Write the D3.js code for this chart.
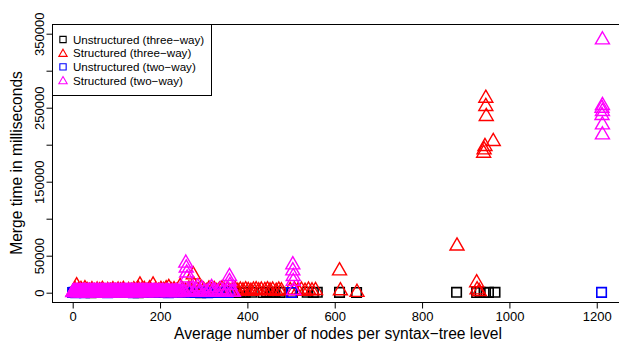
<!DOCTYPE html>
<html>
<head>
<meta charset="utf-8">
<script src="https://cdn.jsdelivr.net/npm/d3@7"></script>
<style>
	body { margin: 0; background: #fff; }
	svg { display: block; font-family: "Liberation Sans", Arial, Helvetica, sans-serif; }
</style>
</head>
<body>
<div id="chart"></div>
<script>
// points are [average nodes per syntax-tree level, merge time in ms]
const unstructuredThreeWay = [
	[1, 300], [8, 900], [15, 200], [24, 1200], [33, 500], [42, 100], [51, 800], [60, 300], [72, 1000],
	[85, 400], [97, 200], [110, 700], [124, 300], [138, 900], [150, 150], [163, 600], [177, 250],
	[190, 1100], [204, 400], [218, 700], [232, 200], [247, 900], [262, 350], [278, 600], [293, 150],
	[308, 800], [322, 300], [336, 500], [342, 200], [354, 700], [368, 400], [382, 300], [390, 500],
	[395, 200], [410, 600], [436, 300], [444, 700], [452, 200], [459, 500], [463, 300], [475, 400],
	[503, 300], [537, 600], [551, 300], [560, 500], [611, 400], [650, 300], [879, 500], [925, 300],
	[933, 600], [942, 300], [952, 400], [967, 500]
];
const structuredThreeWay = [
	[2, 1500], [6, 3500], [9, 9500], [14, 2500], [19, 4500], [24, 1000], [28, 5500], [33, 3000],
	[38, 2000], [44, 4000], [50, 1500], [56, 3500], [62, 2500], [68, 4500], [74, 1000], [80, 3000],
	[86, 2000], [92, 4000], [98, 1500], [104, 3500], [110, 2500], [116, 4500], [122, 1000], [128, 3000],
	[134, 2000], [140, 4000], [146, 2500], [150, 5000], [154, 10500], [158, 3000], [164, 4500],
	[170, 2000], [176, 5500], [184, 10500], [190, 3500], [196, 2000], [202, 4500], [208, 3000],
	[214, 5500], [220, 7000], [226, 2500], [232, 4000], [238, 1500], [246, 8500], [252, 3500],
	[258, 2000], [266, 5000], [272, 3000], [276, 24200], [277, 10800], [282, 4500], [288, 2000],
	[294, 6000], [300, 3500], [306, 1500], [312, 5000], [318, 2500], [324, 4500], [330, 1500],
	[336, 3500], [342, 5500], [348, 2000], [354, 4000], [360, 1500], [366, 3000], [372, 4500],
	[378, 2000], [384, 3500], [390, 2500], [396, 4000], [402, 3000], [408, 2000], [414, 3500],
	[420, 4000], [426, 2500], [432, 3500], [440, 3000], [446, 4000], [452, 2500], [458, 3500],
	[466, 2000], [472, 3500], [478, 2500], [498, 3000], [508, 3500], [516, 2500], [524, 3500],
	[532, 2000], [540, 3500], [548, 2500], [556, 3000], [611, 29600], [613, 2600], [651, 500],
	[880, 63100], [925, 13500], [926, 3900], [931, 1500], [941, 188600], [942, 193100], [944, 197700],
	[963, 204400], [946, 262900], [946, 251700], [947, 238200]
];
const unstructuredTwoWay = [
	[0, 200], [3, 600], [7, 100], [11, 900], [16, 300], [21, 700], [27, 100], [33, 500], [40, 800],
	[47, 200], [55, 600], [63, 300], [71, 900], [80, 100], [89, 500], [98, 700], [108, 200], [118, 800],
	[128, 400], [139, 100], [150, 600], [161, 300], [172, 900], [183, 200], [195, 500], [207, 700],
	[219, 100], [232, 400], [245, 800], [258, 200], [270, 600], [283, 300], [296, 700], [309, 100],
	[322, 500], [335, 300], [347, 600], [356, 200], [501, 300], [1211, 400]
];
const structuredTwoWay = [
	[0, 300], [2, 1200], [4, 600], [6, 1700], [8, 100], [10, 900], [12, 1500], [14, 400], [16, 1100],
	[18, 1800], [20, 200], [22, 1300], [24, 700], [26, 1600], [28, 0], [30, 1000], [32, 500], [34, 1400],
	[36, 800], [38, 1700], [40, 200], [42, 1100], [44, 600], [46, 1500], [48, 300], [50, 1200], [52, 900],
	[54, 1800], [56, 100], [58, 1000], [60, 1400], [62, 500], [64, 1700], [66, 800], [68, 1200], [70, 300],
	[72, 1600], [74, 700], [76, 1100], [78, 0], [80, 1500], [82, 900], [84, 1300], [86, 400], [88, 1700],
	[90, 600], [92, 1200], [94, 200], [96, 1600], [98, 1000], [100, 500], [102, 1400], [104, 800],
	[106, 1800], [108, 300], [110, 1100], [112, 700], [114, 1500], [116, 100], [118, 1300], [120, 900],
	[122, 1700], [124, 400], [126, 1000], [128, 1400], [130, 600], [132, 1800], [134, 200], [136, 1200],
	[138, 800], [140, 1600], [142, 500], [144, 1100], [146, 1500], [148, 300], [150, 1300], [152, 700],
	[154, 1700], [156, 900], [158, 200], [160, 1400], [162, 1000], [164, 600], [166, 1600], [168, 300],
	[170, 1200], [172, 800], [175, 1500], [178, 400], [181, 1100], [184, 1700], [187, 600], [190, 1300],
	[193, 200], [196, 1000], [200, 1500], [204, 500], [208, 1200], [212, 800], [216, 1600], [220, 300],
	[225, 1100], [230, 700], [235, 1400], [240, 400], [246, 1000], [252, 1800], [256, 600],
	[1, 900], [3, 1500], [5, 200], [7, 1100], [9, 600], [11, 1800], [13, 0], [15, 1300], [17, 700],
	[19, 1000], [21, 400], [23, 1600], [25, 1200], [27, 300], [29, 1700], [31, 800], [33, 0], [35, 1100],
	[37, 1500], [39, 500], [41, 1300], [43, 900], [45, 100], [47, 1800], [49, 700], [51, 1400], [53, 300],
	[55, 1000], [57, 1600], [59, 600], [61, 0], [63, 1200], [65, 1500], [67, 400], [69, 1800], [71, 900],
	[73, 200], [75, 1400], [77, 700], [79, 1100], [81, 300], [83, 1700], [85, 1000], [87, 0], [89, 1300],
	[91, 500], [93, 1600], [95, 800], [97, 1200], [99, 100], [101, 1700], [103, 600], [105, 1000],
	[107, 1400], [109, 200], [111, 1800], [113, 900], [115, 400], [117, 1200], [119, 1600], [121, 0],
	[123, 1000], [125, 700], [127, 1500], [129, 300], [131, 1100], [133, 800], [135, 1700], [137, 500],
	[139, 1300], [141, 0], [143, 900], [145, 1600], [147, 600], [149, 1100], [151, 200], [153, 1400],
	[155, 1000], [157, 1800], [159, 500], [161, 800], [163, 1500], [165, 100], [167, 1200], [169, 700],
	[171, 1700], [173, 400], [177, 1000], [180, 1800], [183, 500], [186, 1300], [189, 900], [192, 1600],
	[195, 300], [198, 1200], [202, 700], [206, 1700], [210, 100], [214, 1100], [218, 1500], [222, 600],
	[228, 1300], [233, 200], [238, 1700], [243, 900], [249, 300],
	[259, 40000], [260, 33400], [261, 26600], [262, 19900], [264, 2500], [268, 900], [272, 4500],
	[278, 1300], [284, 3000], [286, 8000], [290, 600], [296, 5500], [302, 1500], [308, 800], [314, 3800],
	[318, 7000], [320, 1100], [326, 2200], [332, 600], [338, 4200], [344, 1400], [350, 900], [356, 3500],
	[359, 22000], [359, 15300], [360, 9900], [364, 1200], [368, 500],
	[504, 37700], [504, 29600], [505, 22000], [505, 15300], [506, 3000],
	[1213, 341700], [1213, 253000], [1212, 249400], [1213, 244900], [1212, 239500], [1213, 226800],
	[1213, 213300]
];

const seriesNames = ['Unstructured (three\u2212way)', 'Structured (three\u2212way)', 'Unstructured (two\u2212way)', 'Structured (two\u2212way)'];
const seriesColors = ['#000000', '#ff0000', '#0000ff', '#ff00ff'];
const seriesShapes = ['square', 'triangle', 'square', 'triangle'];

const xTicks = [0, 200, 400, 600, 800, 1000, 1200];
const yTicks = [0, 50000, 100000, 150000, 200000, 250000, 300000, 350000];
const yTickLabels = ['0', '50000', '', '150000', '', '250000', '', '350000'];

const xTitle = 'Average number of nodes per syntax\u2212tree level';
const yTitle = 'Merge time in milliseconds';

class ScatterChart {
	constructor(param) {
		this.selector = param.selector;
		this.series = param.series;
		this.width = param.width || 619;
		this.height = param.height || 341;
		this.box = param.box;
		this.xDomain = param.xDomain;
		this.yDomain = param.yDomain;
		this.clipId = `body-clip-${Date.now()}`;
	}
	get xScale() {
		return d3.scaleLinear().domain(this.xDomain).range([this.box.left, this.box.right]);
	}
	get yScale() {
		return d3.scaleLinear().domain(this.yDomain).range([this.box.bottom, this.box.top]);
	}
	createSvg() {
		this.svg = d3.select(this.selector)
			.append('svg')
				.attr('width', this.width)
				.attr('height', this.height);
		this.svg.append('rect')
			.attr('width', this.width)
			.attr('height', this.height)
			.attr('fill', '#fff');
	}
	createClipPath() {
		const b = this.box;
		this.svg.append('defs')
			.append('clipPath')
				.attr('id', this.clipId)
			.append('rect')
				.attr('x', b.left)
				.attr('y', b.top)
				.attr('width', b.right - b.left)
				.attr('height', b.bottom - b.top);
	}
	symbolPath(shape, big) {
		// R pch 0 / pch 2
		if (shape === 'square') {
			return d3.symbol().type(d3.symbolSquare).size(big ? 90 : 40)();
		}
		return d3.symbol().type(d3.symbolTriangle).size(big ? 85 : 30)();
	}
	renderDots() {
		const body = this.svg.append('g')
			.attr('class', 'body')
			.attr('clip-path', `url(#${this.clipId})`);

		this.series.forEach((s) => {
			const path = this.symbolPath(s.shape, true);
			body.append('g')
				.selectAll('path')
				.data(s.data)
				.enter()
					.append('path')
					.attr('d', path)
					.attr('transform', (d) => `translate(${this.xScale(d[0])},${this.yScale(d[1])})`)
					.attr('fill', 'none')
					.attr('stroke', s.color)
					.attr('stroke-width', s.shape === 'square' ? 1.6 : 1.4);
		});
	}
	renderBox() {
		const b = this.box;
		this.svg.append('rect')
			.attr('x', b.left + 0.5)
			.attr('y', b.top + 0.5)
			.attr('width', b.right - b.left)
			.attr('height', b.bottom - b.top)
			.attr('fill', 'none')
			.attr('stroke', '#000')
			.attr('stroke-width', 1);
	}
	renderXAxis() {
		const axis = d3.axisBottom(this.xScale)
			.tickValues(xTicks)
			.tickSize(6)
			.tickSizeOuter(0)
			.tickPadding(3)
			.tickFormat((d) => String(d));

		const g = this.svg.append('g')
			.attr('transform', `translate(0,${this.box.bottom + 0.5})`)
			.call(axis);
		g.select('.domain').remove();
		g.selectAll('.tick line').attr('stroke', '#000');
		g.selectAll('.tick text')
			.attr('fill', '#000')
			.style('font-size', '13px')
			.style('font-family', '"Liberation Sans", Arial, sans-serif');
	}
	renderYAxis() {
		const axis = d3.axisLeft(this.yScale)
			.tickValues(yTicks)
			.tickSize(6)
			.tickSizeOuter(0)
			.tickFormat((d, i) => yTickLabels[i]);

		const g = this.svg.append('g')
			.attr('transform', `translate(${this.box.left + 0.5},0)`)
			.call(axis);
		g.select('.domain').remove();
		g.selectAll('.tick line').attr('stroke', '#000');
		g.selectAll('.tick text')
			.attr('fill', '#000')
			.attr('x', 0)
			.attr('dy', 0)
			.attr('text-anchor', 'middle')
			.attr('transform', 'translate(-9,0) rotate(-90)')
			.style('font-size', '13px')
			.style('font-family', '"Liberation Sans", Arial, sans-serif');
	}
	renderTitles() {
		const b = this.box;
		this.svg.append('text')
			.attr('x', (b.left + b.right) / 2)
			.attr('y', 338.5)
			.attr('text-anchor', 'middle')
			.style('font-size', '15.6px')
			.text(xTitle);

		this.svg.append('text')
			.attr('transform', `translate(22,${(b.top + b.bottom) / 2}) rotate(-90)`)
			.attr('text-anchor', 'middle')
			.style('font-size', '15.6px')
			.text(yTitle);
	}
	renderLegend() {
		const b = this.box;
		const legend = this.svg.append('g').attr('class', 'legend');
		legend.append('rect')
			.attr('x', b.left + 0.5)
			.attr('y', b.top + 0.5)
			.attr('width', 159)
			.attr('height', 71)
			.attr('fill', '#fff')
			.attr('stroke', '#000');

		const rows = legend.selectAll('.row')
			.data(this.series)
			.enter()
				.append('g')
				.attr('class', 'row')
				.attr('transform', (d, i) => `translate(${b.left + 11},${b.top + 15.5 + i * 13.7})`);

		rows.append('path')
			.attr('d', (d) => this.symbolPath(d.shape, false))
			.attr('transform', (d) => d.shape === 'triangle' ? 'translate(0,0.8)' : null)
			.attr('fill', 'none')
			.attr('stroke', (d) => d.color)
			.attr('stroke-width', 1.1);

		rows.append('text')
			.attr('x', 10)
			.attr('y', 4.2)
			.style('font-size', '11.6px')
			.text((d) => d.name);
	}
	render() {
		this.createSvg();
		this.createClipPath();
		this.renderDots();
		this.renderBox();
		this.renderXAxis();
		this.renderYAxis();
		this.renderTitles();
		this.renderLegend();
	}
}

const chart = new ScatterChart({
	selector: '#chart',
	width: 619,
	height: 341,
	box: { left: 52, right: 624, top: 24, bottom: 302 },
	xDomain: [-47.4, 1262.4],
	yDomain: [-12570, 363100],
	series: [unstructuredThreeWay, structuredThreeWay, unstructuredTwoWay, structuredTwoWay].map((data, i) => ({
		data,
		name: seriesNames[i],
		color: seriesColors[i],
		shape: seriesShapes[i]
	}))
});
chart.render();
</script>
</body>
</html>
